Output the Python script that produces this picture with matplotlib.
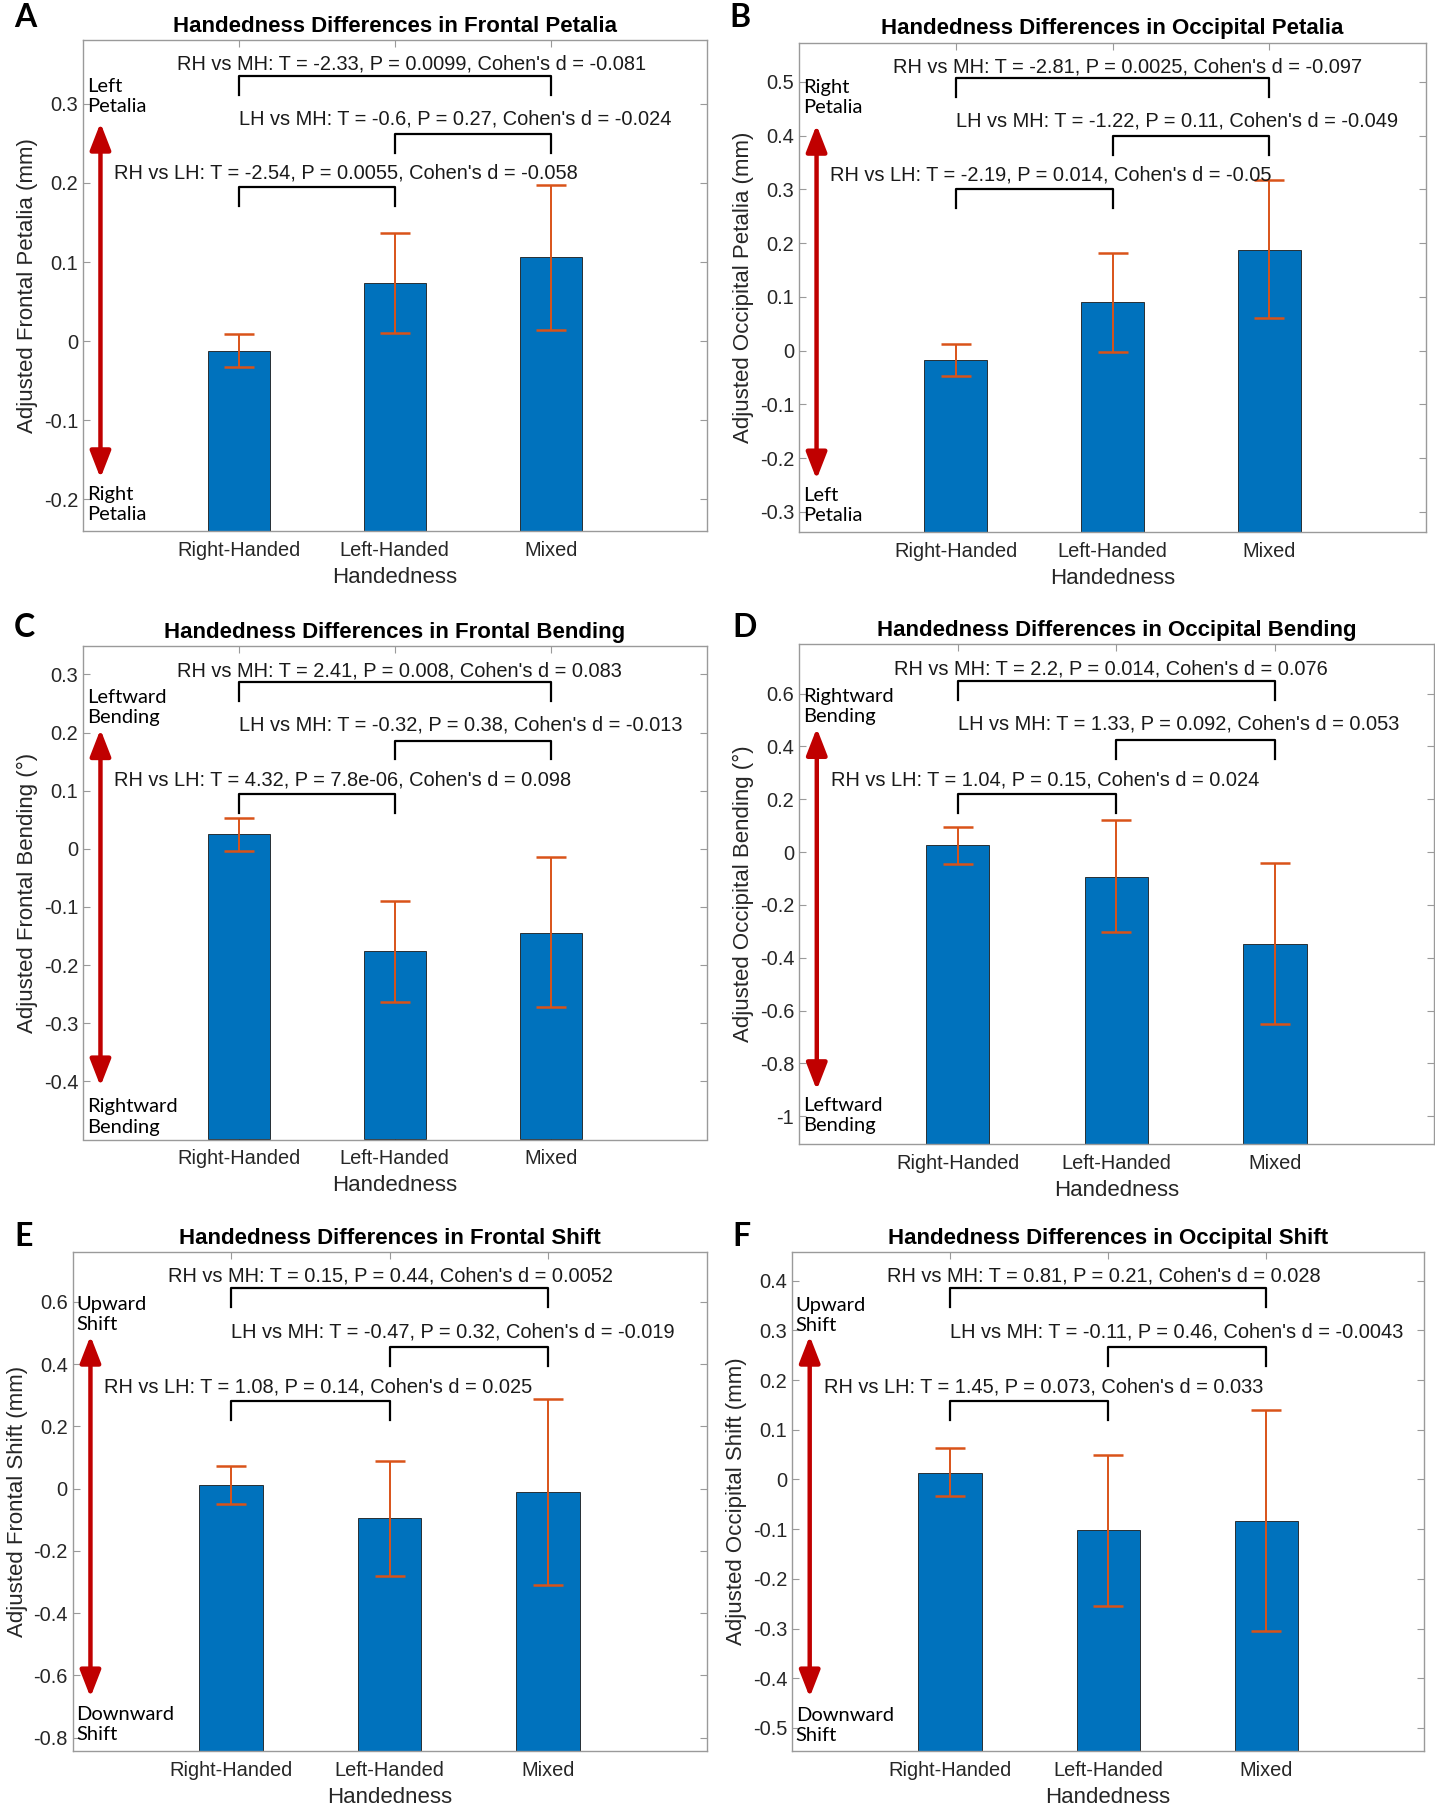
import matplotlib
matplotlib.use('Agg')
import matplotlib.pyplot as plt
import matplotlib.transforms as mtransforms
import numpy as np

plt.rcParams['font.family'] = ['Liberation Sans', 'DejaVu Sans']
plt.rcParams['axes.unicode_minus'] = False

groups = ['Right-Handed', 'Left-Handed', 'Mixed']

# panel A - frontal petalia
a_mean = [-0.012, 0.074, 0.106]
a_lo = [-0.033, 0.010, 0.014]
a_hi = [0.009, 0.137, 0.197]
# panel B - occipital petalia
b_mean = [-0.018, 0.090, 0.188]
b_lo = [-0.048, -0.002, 0.061]
b_hi = [0.013, 0.182, 0.318]
# panel C - frontal bending
c_mean = [0.025, -0.176, -0.144]
c_lo = [-0.003, -0.263, -0.272]
c_hi = [0.053, -0.089, -0.014]
# panel D - occipital bending
d_mean = [0.026, -0.093, -0.348]
d_lo = [-0.044, -0.304, -0.651]
d_hi = [0.096, 0.120, -0.043]
# panel E - frontal shift
e_mean = [0.011, -0.096, -0.012]
e_lo = [-0.050, -0.281, -0.310]
e_hi = [0.071, 0.087, 0.287]
# panel F - occipital shift
f_mean = [0.014, -0.102, -0.083]
f_lo = [-0.034, -0.254, -0.305]
f_hi = [0.063, 0.050, 0.139]

a_stats = ["RH vs MH: T = -2.33, P = 0.0099, Cohen's d = -0.081",
           "LH vs MH: T = -0.6, P = 0.27, Cohen's d = -0.024",
           "RH vs LH: T = -2.54, P = 0.0055, Cohen's d = -0.058"]
b_stats = ["RH vs MH: T = -2.81, P = 0.0025, Cohen's d = -0.097",
           "LH vs MH: T = -1.22, P = 0.11, Cohen's d = -0.049",
           "RH vs LH: T = -2.19, P = 0.014, Cohen's d = -0.05"]
c_stats = ["RH vs MH: T = 2.41, P = 0.008, Cohen's d = 0.083",
           "LH vs MH: T = -0.32, P = 0.38, Cohen's d = -0.013",
           "RH vs LH: T = 4.32, P = 7.8e-06, Cohen's d = 0.098"]
d_stats = ["RH vs MH: T = 2.2, P = 0.014, Cohen's d = 0.076",
           "LH vs MH: T = 1.33, P = 0.092, Cohen's d = 0.053",
           "RH vs LH: T = 1.04, P = 0.15, Cohen's d = 0.024"]
e_stats = ["RH vs MH: T = 0.15, P = 0.44, Cohen's d = 0.0052",
           "LH vs MH: T = -0.47, P = 0.32, Cohen's d = -0.019",
           "RH vs LH: T = 1.08, P = 0.14, Cohen's d = 0.025"]
f_stats = ["RH vs MH: T = 0.81, P = 0.21, Cohen's d = 0.028",
           "LH vs MH: T = -0.11, P = 0.46, Cohen's d = -0.0043",
           "RH vs LH: T = 1.45, P = 0.073, Cohen's d = 0.033"]

W, H = 1435, 1810
fig = plt.figure(figsize=(W / 100, H / 100), dpi=100)

def rect(l, t, r, b):
    return [l / W, 1 - b / H, (r - l) / W, (b - t) / H]

GRAY = '#9a9a9a'
x = np.arange(1, 4)

def panel(box, letter, lpos, title, ylabel, mean, lo, hi, stats, ylim, yticks,
          toplab, botlab, top_y=0.92, bot_y=0.015):
    ax = fig.add_axes(rect(*box))
    mean = np.array(mean)
    err = [mean - np.array(lo), np.array(hi) - mean]
    # bars grow from the bottom of the axes, as in the original
    ax.bar(x, mean - ylim[0], bottom=ylim[0], width=0.4, color='#0072BD',
           edgecolor='#1a1a1a', linewidth=0.6, zorder=2)
    ax.errorbar(x, mean, yerr=err, fmt='none', ecolor='#D95319', elinewidth=1.4,
                capsize=10.5, capthick=1.8, zorder=3)
    ax.set_xlim(0, 4)
    ax.set_ylim(*ylim)
    ax.set_xticks(x)
    ax.set_xticklabels(groups)
    ax.set_yticks(yticks)
    ax.set_yticklabels(['%g' % (round(v, 2) + 0.0) for v in yticks])
    ax.tick_params(direction='in', length=5, width=0.8, color=GRAY, labelsize=14.4,
                   labelcolor='#262626', top=True, right=True)
    ax.tick_params(axis='x', pad=7)
    for s in ax.spines.values():
        s.set_color(GRAY)
        s.set_linewidth(1.0)
        s.set_zorder(4)
    ax.set_title(title, fontsize=16, fontweight='bold', pad=6)
    ax.set_xlabel('Handedness', fontsize=16, labelpad=5, color='#262626')
    ax.set_ylabel(ylabel, fontsize=16, labelpad=4, color='#262626')

    # comparison brackets (x in data, y in axes fraction)
    tr = mtransforms.blended_transform_factory(ax.transData, ax.transAxes)
    pairs = [(1, 3), (2, 3), (1, 2)]
    tops = [0.927, 0.809, 0.701]
    texts_y = [0.951, 0.840, 0.729]
    text_x = [0.6, 1.0, 0.2]
    for (p, q), t, ty, tx, s in zip(pairs, tops, texts_y, text_x, stats):
        ax.plot([p, p, q, q], [t - 0.038, t, t, t - 0.038], color='black', lw=1.6, transform=tr)
        ax.text(tx, ty, s, transform=tr, ha='left', va='center', fontsize=14.4, color='#1a1a1a')

    # direction arrow and its labels
    ax.annotate('', xy=(0.028, 0.832), xytext=(0.028, 0.108), xycoords='axes fraction',
                arrowprops=dict(arrowstyle='<|-|>,head_length=0.9,head_width=0.35',
                                color='#C00000', lw=3.2, mutation_scale=18,
                                shrinkA=0, shrinkB=0))
    ax.text(0.006, top_y, toplab, transform=ax.transAxes, ha='left', va='top',
            fontsize=14.5, family='Lato', linespacing=1.22)
    ax.text(0.006, bot_y, botlab, transform=ax.transAxes, ha='left', va='bottom',
            fontsize=14.5, family='Lato', linespacing=1.22)

    fig.text(lpos[0] / W, 1 - lpos[1] / H, letter, fontsize=23, fontweight='bold',
             family='Lato', ha='left', va='top')
    return ax

panel((83, 40.4, 706.6, 531.1), 'A', (14, 3), 'Handedness Differences in Frontal Petalia',
      'Adjusted Frontal Petalia (mm)', a_mean, a_lo, a_hi, a_stats,
      (-0.24, 0.38), np.arange(-0.2, 0.31, 0.1), 'Left\nPetalia', 'Right\nPetalia',
      top_y=0.924, bot_y=0.016)
panel((799, 42.7, 1426, 532.2), 'B', (729, 3), 'Handedness Differences in Occipital Petalia',
      'Adjusted Occipital Petalia (mm)', b_mean, b_lo, b_hi, b_stats,
      (-0.338, 0.573), np.arange(-0.3, 0.51, 0.1), 'Right\nPetalia', 'Left\nPetalia',
      top_y=0.926, bot_y=0.016)
panel((83, 646.5, 706.6, 1139.5), 'C', (14, 613), 'Handedness Differences in Frontal Bending',
      'Adjusted Frontal Bending (°)', c_mean, c_lo, c_hi, c_stats,
      (-0.5, 0.348), np.arange(-0.4, 0.31, 0.1), 'Leftward\nBending', 'Rightward\nBending',
      top_y=0.913, bot_y=0.008)
panel((799, 644.2, 1434, 1144), 'D', (732, 613), 'Handedness Differences in Occipital Bending',
      'Adjusted Occipital Bending (°)', d_mean, d_lo, d_hi, d_stats,
      (-1.105, 0.787), np.arange(-1.0, 0.61, 0.2), 'Rightward\nBending', 'Leftward\nBending',
      top_y=0.912, bot_y=0.02)
panel((72.7, 1252, 706.6, 1751.2), 'E', (14, 1222), 'Handedness Differences in Frontal Shift',
      'Adjusted Frontal Shift (mm)', e_mean, e_lo, e_hi, e_stats,
      (-0.844, 0.76), np.arange(-0.8, 0.61, 0.2), 'Upward\nShift', 'Downward\nShift',
      top_y=0.912, bot_y=0.017)
panel((792, 1252, 1424.3, 1751.2), 'F', (732, 1222), 'Handedness Differences in Occipital Shift',
      'Adjusted Occipital Shift (mm)', f_mean, f_lo, f_hi, f_stats,
      (-0.547, 0.458), np.arange(-0.5, 0.41, 0.1), 'Upward\nShift', 'Downward\nShift',
      top_y=0.91, bot_y=0.015)

fig.savefig('out.png', dpi=100)
